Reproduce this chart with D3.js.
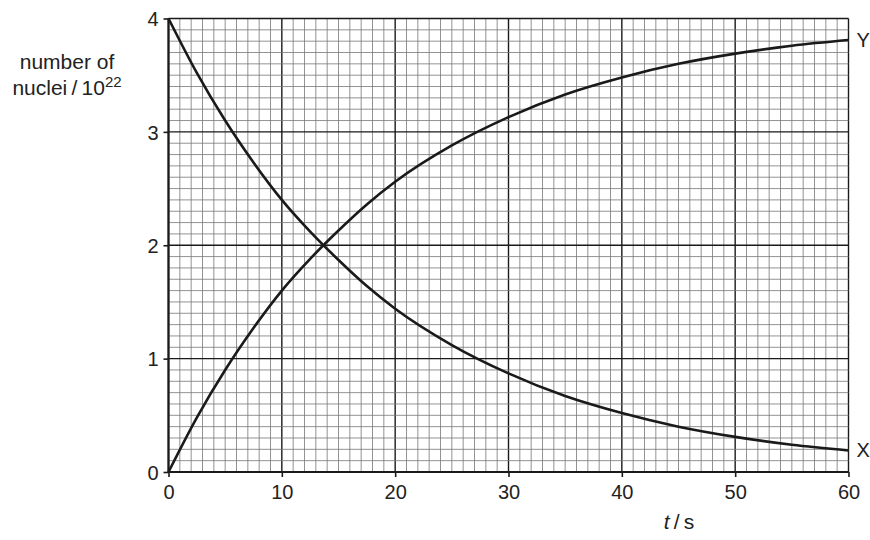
<!DOCTYPE html>
<html>
<head>
<meta charset="utf-8">
<script src="https://cdn.jsdelivr.net/npm/d3@7"></script>
<style>
  body { margin: 0; background: #fff; }
  text { font-family: "Liberation Sans", Arial, sans-serif; fill: #222; }
</style>
</head>
<body>
<svg id="chart"></svg>
<script>
// values (t in s, number of nuclei in units of 10^22)
const times = [0, 2.5, 5, 7.5, 10, 12.5, 15, 17.5, 20, 25, 30, 35, 40, 45, 50, 55, 60]
const nucleiX = [4.0, 3.52, 3.10, 2.73, 2.40, 2.12, 1.87, 1.64, 1.44, 1.12, 0.87, 0.67, 0.52, 0.40, 0.31, 0.24, 0.19]
const nucleiY = [0.0, 0.48, 0.90, 1.27, 1.60, 1.88, 2.13, 2.36, 2.56, 2.88, 3.13, 3.33, 3.48, 3.60, 3.69, 3.76, 3.81]
const xTicks = [0, 10, 20, 30, 40, 50, 60]
const yTicks = [0, 1, 2, 3, 4]

const w = 870
const h = 540

const svg = d3.select('#chart')
  .attr('width', w)
  .attr('height', h)

// Set up scaling
const xScale = d3.scaleLinear()
  .domain([0, 60])
  .range([168.5, 848.5])

const yScale = d3.scaleLinear()
  .domain([0, 4])
  .range([472, 18.5])

// graph paper: minor lines every 1 s / 0.1, major every 10 s / 1
const grid = svg.append('g')

grid.selectAll('.vline')
  .data(d3.range(0, 61, 1))
  .enter()
  .append('line')
    .attr('x1', d => xScale(d))
    .attr('x2', d => xScale(d))
    .attr('y1', yScale(0))
    .attr('y2', yScale(4))
    .attr('stroke', d => d % 10 === 0 ? '#1a1a1a' : '#777')
    .attr('stroke-width', d => d % 10 === 0 ? 1.4 : 0.8)

grid.selectAll('.hline')
  .data(d3.range(0, 41, 1))
  .enter()
  .append('line')
    .attr('x1', xScale(0))
    .attr('x2', xScale(60))
    .attr('y1', d => yScale(d / 10))
    .attr('y2', d => yScale(d / 10))
    .attr('stroke', d => d % 10 === 0 ? '#1a1a1a' : '#777')
    .attr('stroke-width', d => d % 10 === 0 ? 1.4 : 0.8)

// Set up axis
const xAxis = d3.axisBottom(xScale).tickValues(xTicks).tickFormat(d3.format('d')).tickSize(5).tickPadding(7)
const gx = svg.append('g')
  .attr('transform', `translate(0, ${yScale(0)})`)
  .call(xAxis)

const yAxis = d3.axisLeft(yScale).tickValues(yTicks).tickFormat(d3.format('d')).tickSize(5).tickPadding(5)
const gy = svg.append('g')
  .attr('transform', `translate(${xScale(0)}, 0)`)
  .call(yAxis)

gx.select('.domain').remove()
gy.select('.domain').remove()
svg.selectAll('.tick line').attr('stroke', '#1a1a1a').attr('stroke-width', 1.6)
svg.selectAll('.tick text')
  .style('font-family', '"Liberation Sans", Arial, sans-serif')
  .style('font-size', '20px')
  .attr('fill', '#222')
gy.selectAll('.tick text').attr('dy', '0.36em')
gx.selectAll('.tick text').attr('dy', '0.76em')

// thicker axis lines
svg.append('line')
  .attr('x1', xScale(0)).attr('x2', xScale(60))
  .attr('y1', yScale(0)).attr('y2', yScale(0))
  .attr('stroke', '#1a1a1a').attr('stroke-width', 2.2)
svg.append('line')
  .attr('x1', xScale(0)).attr('x2', xScale(0))
  .attr('y1', yScale(0)).attr('y2', yScale(4))
  .attr('stroke', '#1a1a1a').attr('stroke-width', 2.2)

// curves
const line = d3.line()
  .x(d => xScale(d[0]))
  .y(d => yScale(d[1]))
  .curve(d3.curveMonotoneX)

svg.append('path')
  .datum(times.map((t, i) => [t, nucleiX[i]]))
  .attr('d', line)
  .attr('fill', 'none')
  .attr('stroke', '#1a1a1a')
  .attr('stroke-width', 2.6)

svg.append('path')
  .datum(times.map((t, i) => [t, nucleiY[i]]))
  .attr('d', line)
  .attr('fill', 'none')
  .attr('stroke', '#1a1a1a')
  .attr('stroke-width', 2.6)

// curve labels
svg.append('text')
  .attr('x', xScale(60) + 8)
  .attr('y', yScale(nucleiY[nucleiY.length - 1]) + 7)
  .style('font-size', '20px')
  .text('Y')

svg.append('text')
  .attr('x', xScale(60) + 8)
  .attr('y', yScale(nucleiX[nucleiX.length - 1]) + 7)
  .style('font-size', '20px')
  .text('X')

// axis labelling
const ylab = svg.append('text')
  .attr('text-anchor', 'middle')
  .style('font-size', '21px')
ylab.append('tspan').attr('x', 67).attr('y', 69).text('number of')
const l2 = ylab.append('tspan').attr('x', 67).attr('y', 95)
l2.append('tspan').text('nuclei\u2009/\u200910')
l2.append('tspan').attr('dy', -8).style('font-size', '15px').text('22')

const xlab = svg.append('text')
  .attr('x', 679)
  .attr('y', 529)
  .attr('text-anchor', 'middle')
  .style('font-size', '21px')
xlab.append('tspan').style('font-style', 'italic').text('t')
xlab.append('tspan').text('\u2009/\u2009s')
</script>
</body>
</html>
